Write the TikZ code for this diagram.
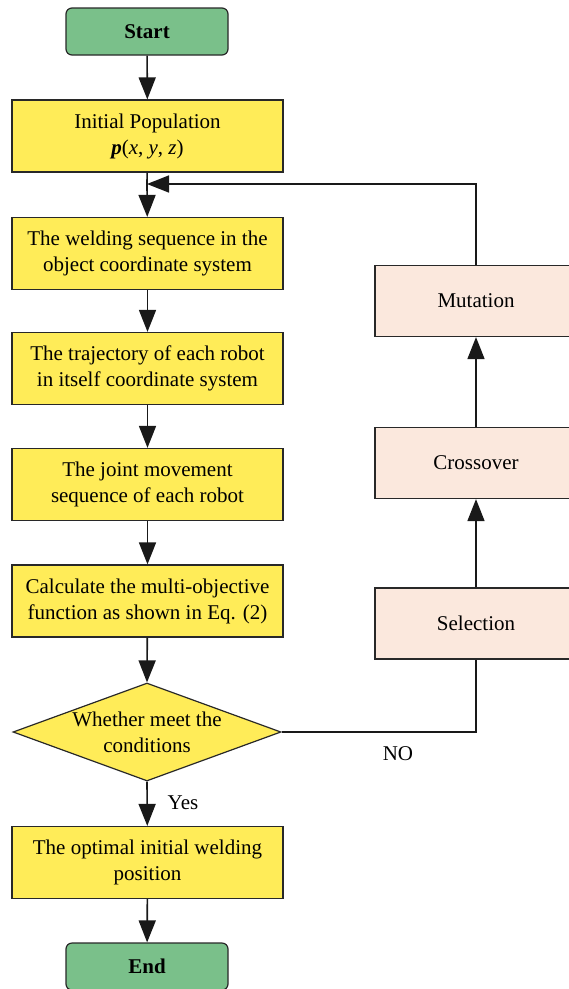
\documentclass[tikz,border=0pt]{standalone}
\usepackage{fontspec}
\setmainfont{Liberation Serif}
\usetikzlibrary{arrows.meta,shapes.geometric}
\definecolor{Y}{RGB}{255, 236, 88}
\definecolor{G}{RGB}{122, 192, 138}
\definecolor{P}{RGB}{251, 232, 221}
\definecolor{L}{RGB}{40, 40, 40}

\begin{document}
\begin{tikzpicture}[x=1pt,y=-1pt,
    font=\fontsize{21}{26}\selectfont,
    paso/.style={draw=L,line width=1.2pt,fill=Y,minimum width=271pt,minimum height=72pt,inner sep=0pt,align=center},
    term/.style={draw=L,line width=1.2pt,fill=G,rounded corners=6pt,minimum width=162pt,minimum height=47pt,inner sep=0pt,font=\fontsize{21}{26}\selectfont\bfseries},
    oper/.style={draw=L,line width=1.2pt,fill=P,minimum width=202pt,minimum height=71pt,inner sep=0pt},
    decision/.style={diamond,draw=L,line width=1.2pt,fill=Y,minimum width=268pt,minimum height=98pt,inner sep=0pt},
    flecha/.style={-{Triangle[length=22pt,width=17pt]},line width=1.6pt,draw=black!90},
    linea/.style={line width=1.6pt,draw=black!90}]
   	\useasboundingbox (0,0) rectangle (569,989);
   	\clip (0,0) rectangle (569,989);

	%Columna principal
   	\node[term] (inicio) at (147,31.5) {Start};
   	\node[paso] (pobl) at (147.5,136) {Initial Population\\\textbf{\textit{p}}(\textit{x}, \textit{y}, \textit{z})};
   	\node[paso] (secu) at (147.5,253.5) {The welding sequence in the\\object coordinate system};
   	\node[paso] (tray) at (147.5,368.5) {The trajectory of each robot\\in itself coordinate system};
   	\node[paso] (junta) at (147.5,484.5) {The joint movement\\sequence of each robot};
   	\node[paso] (func) at (147.5,601) {Calculate the multi-objective\\function as shown in Eq. (2)};
   	% el rombo va vacio y el texto encima, asi no crece
   	\node[decision] (cond) at (147,732) {};
   	\node[align=center,inner sep=0pt] (condtxt) at (cond) {Whether meet the\\conditions};
   	\node[paso] (optimo) at (147.5,862.5) {The optimal initial welding\\position};
   	\node[term] (fin) at (147,966.5) {End};

	%Columna derecha (operadores geneticos)
   	\node[oper] (sel) at (476,623.5) {Selection};
   	\node[oper] (cruce) at (476,463) {Crossover};
   	\node[oper] (mut) at (476,301) {Mutation};

	%Punto donde vuelve el ciclo
   	\coordinate (retorno) at (147,184);

	%Flechas de la columna principal
   	\draw[flecha] (inicio) -- (pobl);
   	\draw[linea] (pobl) -- (retorno);
   	\draw[flecha] (retorno) -- (secu);
   	\draw[flecha] (secu) -- (tray);
   	\draw[flecha] (tray) -- (junta);
   	\draw[flecha] (junta) -- (func);
   	\draw[flecha] (func) -- (cond.north);
   	\draw[flecha] (cond.south) -- (optimo);
   	\draw[flecha] (optimo) -- (fin);

	%Ciclo de regreso
   	\draw[linea] (cond.east) -| (sel.south);
   	\draw[flecha] (sel) -- (cruce);
   	\draw[flecha] (cruce) -- (mut);
   	\draw[flecha] (mut.north) |- (retorno);

	%Etiquetas
   	\node (si) at (183,803) {Yes};
   	\node (no) at (398,754) {NO};
\end{tikzpicture}
\end{document}
